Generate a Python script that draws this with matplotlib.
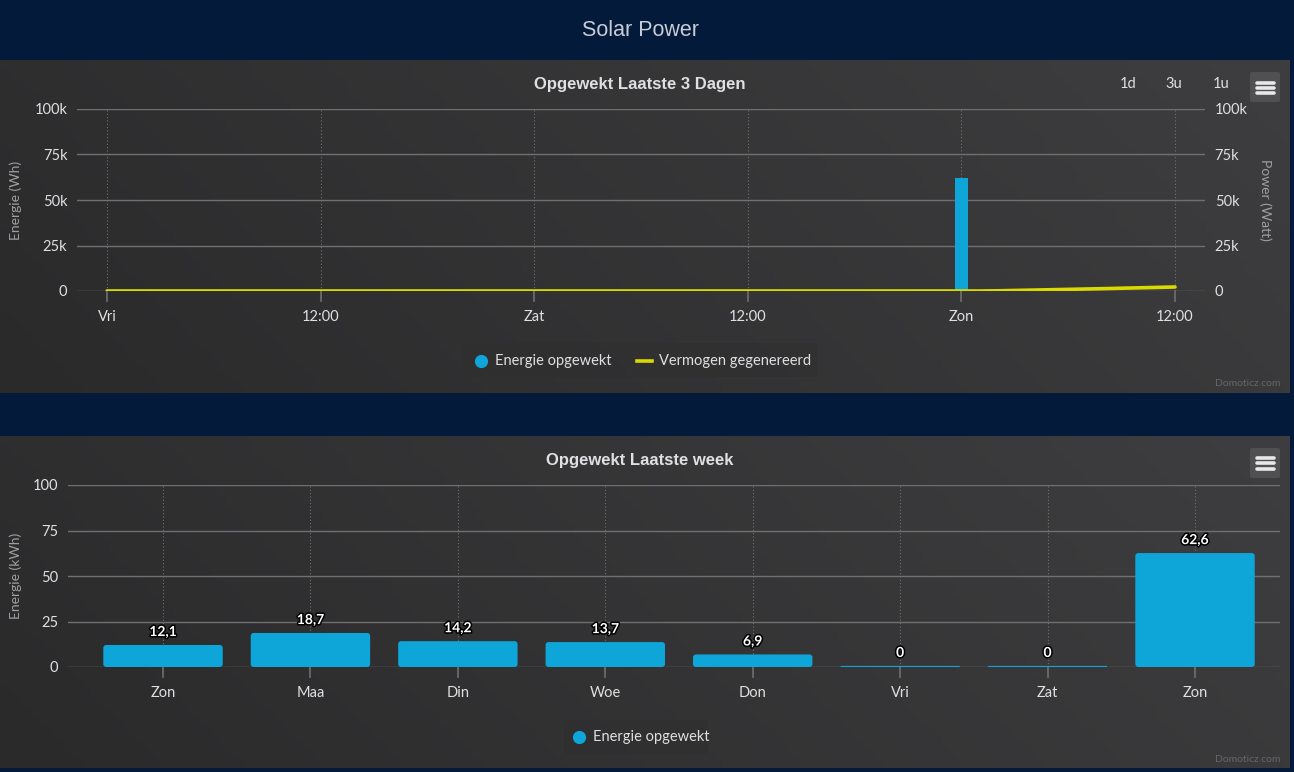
import numpy as np
import matplotlib
matplotlib.use("Agg")
import matplotlib.pyplot as plt
from matplotlib.patches import FancyBboxPatch
from matplotlib.lines import Line2D
import matplotlib.patheffects as pe
from matplotlib.ticker import FuncFormatter

# ---------------- data ----------------
# chart 1: last 3 days (hours since Friday 00:00)
x_ticks_3d = [0, 12, 24, 36, 48, 60]
x_labels_3d = ["Vri", "12:00", "Zat", "12:00", "Zon", "12:00"]
energy_times = [48]
energy_values = [62000]
power_times = [0, 24, 48, 49, 50, 52, 54, 56, 58, 60]
power_values = [0, 0, 0, 0, 100, 500, 900, 1300, 1750, 2200]

# chart 2: last week (kWh)
week_days = ["Zon", "Maa", "Din", "Woe", "Don", "Vri", "Zat", "Zon"]
week_values = [12.1, 18.7, 14.2, 13.7, 6.9, 0, 0, 62.6]
week_labels = ["12,1", "18,7", "14,2", "13,7", "6,9", "0", "0", "62,6"]

# ---------------- style ----------------
W, H = 1294, 772
NAVY = "#031a3b"
BLUE = "#0ea5d8"
YELLOW = "#dada00"
GRID = "#707073"
TXT = "#e0e0e3"
FONT = ["Lato", "DejaVu Sans"]
TFONT = ["Liberation Sans", "DejaVu Sans"]

fig = plt.figure(figsize=(W / 100, H / 100), dpi=100, facecolor=NAVY)


def fx(x):
    return x / W


def fy(y):
    return 1 - y / H


def rect(x0, y0, x1, y1):
    return [fx(x0), fy(y1), fx(x1) - fx(x0), fy(y0) - fy(y1)]


def panel(x0, y0, x1, y1):
    ax = fig.add_axes(rect(x0, y0, x1, y1), zorder=0)
    nx, ny = 200, 60
    gx, gy = np.meshgrid(np.linspace(0, 1, nx), np.linspace(0, 1, ny))
    g = (gx * 0.8 + gy * 0.2)
    c0 = np.array([0x2a, 0x2a, 0x2b]) / 255
    c1 = np.array([0x3e, 0x3e, 0x40]) / 255
    img = c0[None, None, :] * (1 - g[..., None]) + c1[None, None, :] * g[..., None]
    ax.imshow(img, aspect="auto", extent=[0, 1, 0, 1], origin="lower")
    ax.set_axis_off()
    return ax


fig.text(fx(640), fy(30), "Solar Power", ha="center", va="center",
         color="#c8ccd4", fontsize=15.5, family=TFONT)

panel(0, 60, 1290, 393)
panel(0, 436, 1290, 768)


def menu_button(x0, y0, ys):
    fig.add_artist(FancyBboxPatch((fx(x0), fy(y0 + 30)), fx(30), 30 / H,
                                  boxstyle="round,pad=0,rounding_size=0.002",
                                  transform=fig.transFigure, fc="#505053",
                                  ec="none", zorder=5))
    for yy in ys:
        fig.add_artist(Line2D([fx(x0 + 6.5), fx(x0 + 23.5)], [fy(yy), fy(yy)],
                              transform=fig.transFigure, color="#e8e8e8",
                              lw=2.6, solid_capstyle="round", zorder=6))


def legend_dot(x, y):
    fig.add_artist(Line2D([fx(x)], [fy(y)], transform=fig.transFigure,
                          marker="o", markersize=9.5, color=BLUE,
                          markeredgewidth=0, linestyle="none", zorder=2))


def style_axis(ax):
    ax.set_facecolor("none")
    for s in ax.spines.values():
        s.set_visible(False)
    ax.tick_params(axis="both", colors=TXT, labelsize=10.5, length=0)
    ax.grid(False)


# ---------------- chart 1 ----------------
ax1 = fig.add_axes(rect(77, 109, 1205, 291), zorder=2)
style_axis(ax1)
px_per_h = (1175 - 107) / 60.0
ax1.set_xlim(-(107 - 77) / px_per_h, (1205 - 107) / px_per_h)
ax1.set_ylim(0, 100000)
yt = [0, 25000, 50000, 75000, 100000]
for v in yt:
    ax1.axhline(v, color=GRID, lw=1.0, zorder=1)
for t in x_ticks_3d:
    ax1.axvline(t, color=GRID, lw=0.8, ls=(0, (1, 2)), zorder=1)
    ax1.plot([t, t], [0, -0.055], color=GRID, lw=1.2, clip_on=False,
             transform=ax1.get_xaxis_transform(), zorder=1)
ax1.set_yticks(yt)
kfmt = FuncFormatter(lambda v, p: "0" if v == 0 else f"{int(v / 1000)}k")
ax1.yaxis.set_major_formatter(kfmt)
ax1.set_xticks(x_ticks_3d)
ax1.set_xticklabels(x_labels_3d)
ax1.tick_params(axis="x", pad=14)
ax1.tick_params(axis="y", pad=7)
for lab in ax1.get_xticklabels() + ax1.get_yticklabels():
    lab.set_family(FONT)
ax1.bar(energy_times, energy_values, width=0.72, color=BLUE, zorder=3)
ax1.plot(power_times, power_values, color=YELLOW, lw=2.6, zorder=4,
         solid_capstyle="round")
ax1.set_ylabel("Energie (Wh)", color="#a0a0a3", fontsize=10, family=FONT)
ax1.yaxis.set_label_coords((fx(22) - fx(77)) / (fx(1205) - fx(77)), 0.5)

ax1r = ax1.twinx()
style_axis(ax1r)
ax1r.set_ylim(0, 100000)
ax1r.set_yticks(yt)
ax1r.yaxis.set_major_formatter(kfmt)
ax1r.tick_params(axis="y", pad=7)
for lab in ax1r.get_yticklabels():
    lab.set_family(FONT)
ax1r.set_ylabel("Power (Watt)", color="#a0a0a3", fontsize=10, family=FONT,
                rotation=270, va="bottom")
ax1r.yaxis.set_label_coords((fx(1259) - fx(77)) / (fx(1205) - fx(77)), 0.5)

fig.text(fx(640), fy(84), "Opgewekt Laatste 3 Dagen", ha="center", va="center",
         color=TXT, fontsize=12, fontweight="bold", family=TFONT)
for xx, s in [(1128, "1d"), (1174, "3u"), (1221, "1u")]:
    fig.text(fx(xx), fy(84), s, ha="center", va="center", color=TXT,
             fontsize=10.5, family=FONT)
menu_button(1250, 72, [82.5, 87.5, 92.5])

# legend 1
fig.add_artist(FancyBboxPatch((fx(462), fy(377)), fx(818) - fx(462), 34 / H,
                              boxstyle="round,pad=0,rounding_size=0.003",
                              transform=fig.transFigure, fc="#2f2f30",
                              ec="none", alpha=0.6, zorder=1))
legend_dot(481, 361)
fig.text(fx(495), fy(361), "Energie opgewekt", ha="left", va="center",
         color=TXT, fontsize=10.5, family=FONT)
fig.add_artist(Line2D([fx(637), fx(652)], [fy(361), fy(361)],
                      transform=fig.transFigure, color=YELLOW, lw=2.6, zorder=2))
fig.text(fx(659), fy(361), "Vermogen gegenereerd", ha="left", va="center",
         color=TXT, fontsize=10.5, family=FONT)
fig.text(fx(1280), fy(383), "Domoticz.com", ha="right", va="center",
         color="#666666", fontsize=7.5, family=FONT)

# ---------------- chart 2 ----------------
ax2 = fig.add_axes(rect(68, 485, 1280, 667), zorder=2)
style_axis(ax2)
step = (1195 - 163) / 7.0
ax2.set_xlim(-(163 - 68) / step, 7 + (1280 - 1195) / step)
ax2.set_ylim(0, 100)
yt2 = [0, 25, 50, 75, 100]
for v in yt2:
    ax2.axhline(v, color=GRID, lw=1.0, zorder=1)
xpos = np.arange(len(week_days))
for t in xpos:
    ax2.axvline(t, color=GRID, lw=0.8, ls=(0, (1, 2)), zorder=1)
    ax2.plot([t, t], [0, -0.055], color=GRID, lw=1.2, clip_on=False,
             transform=ax2.get_xaxis_transform(), zorder=1)
ax2.set_yticks(yt2)
ax2.set_xticks(xpos)
ax2.set_xticklabels(week_days)
ax2.tick_params(axis="x", pad=14)
ax2.tick_params(axis="y", pad=7)
for lab in ax2.get_xticklabels() + ax2.get_yticklabels():
    lab.set_family(FONT)
min_len = 0.6
heights = np.maximum(np.array(week_values), min_len)
bw = 0.81
asp = 80.0
for x, h in zip(xpos, heights):
    r = min(0.02, h / 2.0 / asp)
    ax2.add_patch(FancyBboxPatch((x - bw / 2, 0), bw, h,
                                 boxstyle=f"round,pad=0,rounding_size={r}",
                                 mutation_aspect=asp,
                                 fc=BLUE, ec="none", zorder=3))
for x, v, s in zip(xpos, week_values, week_labels):
    ax2.annotate(s, (x, max(v, min_len)), xytext=(0, 5),
                 textcoords="offset points", ha="center", va="bottom",
                 color="white", fontsize=10, fontweight="bold", family=FONT,
                 path_effects=[pe.withStroke(linewidth=2.2, foreground="black")],
                 zorder=5)
ax2.set_ylabel("Energie (kWh)", color="#a0a0a3", fontsize=10, family=FONT)
ax2.yaxis.set_label_coords((fx(22) - fx(68)) / (fx(1280) - fx(68)), 0.5)

fig.text(fx(640), fy(460), "Opgewekt Laatste week", ha="center", va="center",
         color=TXT, fontsize=12, fontweight="bold", family=TFONT)
menu_button(1250, 448, [457.5, 463, 468.5])

fig.add_artist(FancyBboxPatch((fx(564), fy(754)), fx(708) - fx(564), 34 / H,
                              boxstyle="round,pad=0,rounding_size=0.003",
                              transform=fig.transFigure, fc="#2f2f30",
                              ec="none", alpha=0.6, zorder=1))
legend_dot(579, 737)
fig.text(fx(593), fy(737), "Energie opgewekt", ha="left", va="center",
         color=TXT, fontsize=10.5, family=FONT)
fig.text(fx(1280), fy(760), "Domoticz.com", ha="right", va="center",
         color="#666666", fontsize=7.5, family=FONT)

fig.savefig("out.png", dpi=100, facecolor=NAVY)
